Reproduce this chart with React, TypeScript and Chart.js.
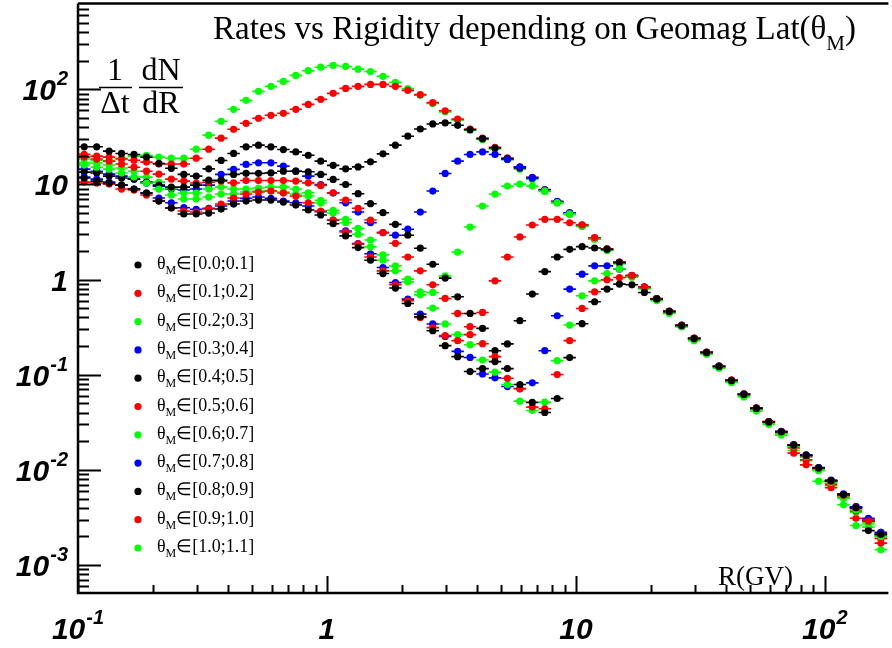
import React, { useEffect, useRef } from "react";
import { Chart, registerables } from "chart.js";

Chart.register(...registerables);

// Bin centres in rigidity (GV)
const rigidity = [
  0.1059, 0.1189, 0.1334, 0.1496, 0.1679, 0.1884, 0.2113, 0.2371, 0.2661, 0.2985,
  0.335, 0.3758, 0.4217, 0.4732, 0.5309, 0.5957, 0.6683, 0.7499, 0.8414, 0.9441,
  1.059, 1.189, 1.334, 1.496, 1.679, 1.884, 2.113, 2.371, 2.661, 2.985,
  3.35, 3.758, 4.217, 4.732, 5.309, 5.957, 6.683, 7.499, 8.414, 9.441,
  10.59, 11.89, 13.34, 14.96, 16.79, 18.84, 21.13, 23.71, 26.61, 29.85,
  33.5, 37.58, 42.17, 47.32, 53.09, 59.57, 66.83, 74.99, 84.14, 94.41,
  105.9, 118.9, 133.4, 149.6, 167.9,
];

const rate00 = [
  11.7, 10.86, 10.35, 9.85, 8.95, 8.13, 6.7, 5.66, 4.9, 4.9,
  5.01, 5.52, 6.23, 6.7, 6.86, 6.86, 6.54, 6.08, 5.39, 4.78,
  3.87, 2.88, 2.17, 1.6, 1.158, 0.815, 0.561, 0.407, 0.29, 0.2023,
  0.155, 0.108, 0.1161, 0.1375, 0.1161, 0.0789, 0.0512, 0.0401, 0.0563, 0.1514,
  0.344, 0.585, 0.795, 0.897, 0.882, 0.733, 0.626, 0.461, 0.329, 0.24,
  0.1712, 0.1222, 0.087, 0.0621, 0.0443, 0.0319, 0.0251, 0.0182, 0.0142, 0.0105,
  0.0077, 0.0055, 0.004, 0.0023, 0.0021,
];
const rate01 = [
  10.6, 10.35, 10.1, 8.95, 8.74, 7.74, 6.7, 5.66, 5.26, 5.13,
  5.52, 6.23, 7.2, 7.93, 8.33, 8.53, 8.13, 7.56, 6.42, 5.26,
  4.23, 3.17, 2.37, 1.73, 1.236, 0.882, 0.599, 0.4, 0.313, 0.2576,
  0.2283, 0.264, 0.212, 0.155, 0.0919, 0.0712, 0.0457, 0.0439, 0.1005, 0.2283,
  0.498, 0.745, 0.995, 1.053, 1.105, 0.834, 0.63, 0.464, 0.331, 0.242,
  0.172, 0.1228, 0.0874, 0.0623, 0.0445, 0.032, 0.0251, 0.0182, 0.0141, 0.0104,
  0.0076, 0.0054, 0.004, 0.0029, 0.0021,
];
const rate02 = [
  16.0, 15.2, 14.5, 13.2, 11.96, 10.35, 8.95, 7.74, 7.03, 7.03,
  7.38, 7.93, 7.93, 8.33, 8.53, 8.53, 8.33, 7.93, 7.56, 6.38,
  5.01, 3.96, 3.0, 2.21, 1.6, 1.236, 0.948, 0.692, 0.502, 0.342,
  0.264, 0.207, 0.143, 0.1065, 0.0789, 0.0528, 0.0421, 0.0515, 0.1409, 0.333,
  0.676, 0.971, 1.158, 1.297, 1.09, 0.82, 0.618, 0.455, 0.325, 0.236,
  0.169, 0.1205, 0.086, 0.0612, 0.0437, 0.0314, 0.0244, 0.0178, 0.0139, 0.0101,
  0.0074, 0.0053, 0.0038, 0.0028, 0.002,
];
const rate03 = [
  11.96, 11.4, 10.6, 9.85, 8.95, 8.13, 7.2, 6.42, 5.7, 5.48,
  5.62, 5.94, 6.7, 7.15, 7.38, 7.15, 6.7, 6.42, 5.94, 5.17,
  4.23, 3.25, 2.39, 1.87, 1.34, 0.931, 0.624, 0.434, 0.342, 0.253,
  0.176, 0.152, 0.102, 0.0928, 0.0752, 0.0716, 0.0822, 0.179, 0.417, 0.795,
  1.142, 1.395, 1.395, 1.288, 1.1, 0.832, 0.628, 0.463, 0.331, 0.2415,
  0.1725, 0.123, 0.0875, 0.0625, 0.0446, 0.0321, 0.0254, 0.0184, 0.0144, 0.0106,
  0.0078, 0.0056, 0.0041, 0.0031, 0.0022,
];
const rate04 = [
  13.5, 13.2, 12.25, 11.7, 11.4, 10.6, 9.85, 9.39, 9.39, 9.85,
  11.1, 11.1, 12.76, 13.1, 13.1, 13.25, 13.8, 13.8, 13.6, 12.76,
  11.3, 10.0, 8.0, 6.28, 5.05, 3.81, 2.93, 2.14, 1.45, 1.037,
  0.66, 0.441, 0.307, 0.179, 0.211, 0.37, 0.705, 1.215, 1.73, 2.08,
  2.22, 2.15, 2.08, 1.51, 1.095, 0.826, 0.623, 0.459, 0.327, 0.239,
  0.1705, 0.1218, 0.0866, 0.0619, 0.0441, 0.0317, 0.025, 0.0182, 0.0143, 0.0105,
  0.0076, 0.0054, 0.0041, 0.0029, 0.0021,
];
const rate05 = [
  19.4, 18.5, 17.6, 16.4, 15.2, 13.8, 12.85, 11.4, 10.86, 10.35,
  10.6, 10.86, 10.4, 11.0, 11.0, 11.0, 11.0, 10.86, 10.4, 9.78,
  8.19, 6.86, 5.62, 4.23, 3.12, 2.41, 1.73, 1.236, 0.882, 0.634,
  0.441, 0.32, 0.452, 0.971, 1.73, 2.81, 3.75, 4.3, 4.3, 3.96,
  3.76, 2.76, 2.11, 1.53, 1.11, 0.838, 0.632, 0.466, 0.333, 0.243,
  0.173, 0.1235, 0.088, 0.0628, 0.0448, 0.0322, 0.0253, 0.017, 0.0128, 0.0105,
  0.007, 0.0055, 0.0037, 0.003, 0.0019,
];
const rate06 = [
  16.8, 16.8, 16.0, 14.9, 13.8, 11.96, 10.6, 9.17, 8.13, 8.13,
  8.95, 9.39, 8.95, 8.95, 9.17, 9.39, 9.39, 8.95, 8.19, 6.81,
  5.35, 4.3, 3.46, 2.61, 1.82, 1.395, 1.012, 0.745, 0.733, 1.096,
  1.95, 3.57, 5.94, 7.93, 9.62, 10.1, 9.62, 8.55, 6.45, 4.92,
  3.66, 2.68, 2.05, 1.48, 1.08, 0.815, 0.615, 0.452, 0.322, 0.234,
  0.168, 0.119, 0.085, 0.0605, 0.0432, 0.0312, 0.024, 0.0175, 0.0136, 0.0098,
  0.0072, 0.005, 0.0036, 0.0027, 0.0019,
];
const rate07 = [
  14.5, 13.8, 12.85, 12.25, 11.4, 10.35, 9.62, 8.95, 8.74, 8.95,
  9.85, 12.76, 14.4, 16.25, 16.9, 16.9, 15.6, 13.8, 12.25, 10.0,
  8.13, 6.42, 5.13, 3.96, 3.12, 2.93, 3.39, 5.13, 8.53, 13.07,
  17.6, 20.7, 22.0, 20.7, 18.3, 15.3, 11.8, 8.8, 6.62, 5.03,
  3.73, 2.74, 2.09, 1.52, 1.1, 0.83, 0.627, 0.462, 0.33, 0.241,
  0.172, 0.1225, 0.0872, 0.0622, 0.0444, 0.032, 0.0252, 0.0183, 0.014, 0.0103,
  0.0077, 0.0054, 0.0039, 0.0029, 0.002,
];
const rate08 = [
  24.9, 24.9, 22.4, 21.2, 20.7, 19.4, 16.65, 14.8, 12.76, 12.25,
  14.6, 17.9, 21.2, 24.9, 25.9, 24.9, 23.3, 22.0, 20.3, 17.6,
  15.9, 14.6, 15.3, 17.3, 21.0, 25.9, 32.2, 38.3, 43.3, 44.4,
  41.9, 37.6, 30.3, 24.2, 18.7, 14.9, 11.7, 8.7, 6.55, 4.98,
  3.7, 2.71, 2.07, 1.5, 1.09, 0.822, 0.62, 0.457, 0.326, 0.238,
  0.17, 0.121, 0.0865, 0.0617, 0.044, 0.0316, 0.0249, 0.018, 0.0141, 0.0104,
  0.0076, 0.0055, 0.004, 0.003, 0.0022,
];
const rate09 = [
  20.8, 19.85, 19.4, 18.5, 18.0, 17.2, 16.4, 16.4, 16.4, 18.9,
  23.5, 30.7, 38.1, 44.0, 49.7, 53.4, 56.0, 61.7, 69.5, 78.5,
  90.8, 102.4, 107.5, 112.8, 112.8, 107.5, 97.6, 88.0, 72.5, 59.5,
  48.6, 38.3, 30.8, 24.6, 19.0, 15.2, 11.9, 8.85, 6.65, 5.05,
  3.75, 2.75, 2.1, 1.53, 1.1, 0.835, 0.63, 0.465, 0.331, 0.242,
  0.172, 0.123, 0.088, 0.0625, 0.0445, 0.0322, 0.0245, 0.015, 0.0113, 0.0101,
  0.0065, 0.0052, 0.0031, 0.0029, 0.0017,
];
const rate10 = [
  18.5, 18.0, 17.6, 18.9, 19.85, 20.3, 19.4, 18.9, 18.9, 23.5,
  33.0, 46.2, 61.7, 76.6, 95.3, 107.5, 121.3, 140.2, 157, 171,
  178.4, 174, 163, 154, 137, 118.4, 101.7, 86.6, 71.0, 58.0,
  47.5, 37.2, 29.8, 23.6, 18.3, 14.5, 11.3, 8.45, 6.4, 4.85,
  3.62, 2.66, 2.02, 1.47, 1.06, 0.8, 0.6, 0.442, 0.318, 0.228,
  0.164, 0.117, 0.083, 0.0585, 0.0415, 0.03, 0.0232, 0.016, 0.0125, 0.0076,
  0.0068, 0.0043, 0.0026, 0.0025, 0.00145,
];

const latBins = [
  "[0.0;0.1]", "[0.1;0.2]", "[0.2;0.3]", "[0.3;0.4]", "[0.4;0.5]", "[0.5;0.6]",
  "[0.6;0.7]", "[0.7;0.8]", "[0.8;0.9]", "[0.9;1.0]", "[1.0;1.1]",
];
const seriesColors = [
  "#000000", "#ff0000", "#00ff00", "#0000ff", "#000000", "#ff0000",
  "#00ff00", "#0000ff", "#000000", "#ff0000", "#00ff00",
];
const allRates = [rate00, rate01, rate02, rate03, rate04, rate05, rate06, rate07, rate08, rate09, rate10];

const xTickValues = [0.1, 1, 10, 100];
const xTickLabels = [["10", "-1"], ["1", ""], ["10", ""], ["10", "2"]];
const yTickValues = [0.001, 0.01, 0.1, 1, 10, 100];
const yTickLabels = [["10", "-3"], ["10", "-2"], ["10", "-1"], ["1", ""], ["10", ""], ["10", "2"]];

const titleText = "Rates vs Rigidity depending on Geomag Lat(θ";
const xTitle = "R(GV)";

const SANS = '"Liberation Sans", Arial, sans-serif';
const SERIF = '"Liberation Serif", "Times New Roman", serif';

function drawPow(ctx: CanvasRenderingContext2D, base: string, exp: string, x: number, y: number, align: string) {
  ctx.font = `italic bold 30px ${SANS}`;
  const wb = ctx.measureText(base).width;
  ctx.font = `italic bold 20px ${SANS}`;
  const we = exp ? ctx.measureText(exp).width + 1 : 0;
  const total = wb + we;
  const x0 = align === "center" ? x - total / 2 : align === "right" ? x - total : x;
  ctx.textAlign = "left";
  ctx.textBaseline = "alphabetic";
  ctx.font = `italic bold 30px ${SANS}`;
  ctx.fillText(base, x0, y);
  if (exp) {
    ctx.font = `italic bold 20px ${SANS}`;
    ctx.fillText(exp, x0 + wb + 1, y - 15);
  }
}

function binEdges(j: number): [number, number] {
  const r = rigidity;
  const lo = j > 0 ? Math.sqrt(r[j - 1] * r[j]) : (r[0] * r[0]) / Math.sqrt(r[0] * r[1]);
  const hi = j < r.length - 1 ? Math.sqrt(r[j] * r[j + 1]) : (r[j] * r[j]) / Math.sqrt(r[j - 1] * r[j]);
  return [lo, hi];
}

const decorPlugin = {
  id: "decor",
  beforeDatasetsDraw(chart: any) {
    const ctx: CanvasRenderingContext2D = chart.ctx;
    const xs = chart.scales.x;
    const ys = chart.scales.y;
    const { left, right, top, bottom } = chart.chartArea;
    ctx.save();
    ctx.beginPath();
    ctx.rect(left, top, right - left, bottom - top);
    ctx.clip();
    ctx.lineWidth = 1.6;
    for (let i = chart.data.datasets.length - 1; i >= 0; i--) {
      const ds = chart.data.datasets[i];
      ctx.strokeStyle = ds.backgroundColor;
      ctx.beginPath();
      ds.data.forEach((p: any, j: number) => {
        const [lo, hi] = binEdges(j);
        const py = ys.getPixelForValue(p.y);
        ctx.moveTo(xs.getPixelForValue(lo), py);
        ctx.lineTo(xs.getPixelForValue(hi), py);
      });
      ctx.stroke();
    }
    ctx.restore();
  },
  afterDraw(chart: any) {
    const ctx: CanvasRenderingContext2D = chart.ctx;
    const xs = chart.scales.x;
    const ys = chart.scales.y;
    const { left, right, top, bottom } = chart.chartArea;
    ctx.save();
    ctx.fillStyle = "#000";
    ctx.strokeStyle = "#000";
    // frame
    ctx.lineWidth = 2.5;
    ctx.beginPath();
    ctx.moveTo(left, top);
    ctx.lineTo(right, top);
    ctx.moveTo(left, top);
    ctx.lineTo(left, bottom);
    ctx.lineTo(right, bottom);
    ctx.stroke();
    // ticks
    ctx.lineWidth = 2;
    ctx.beginPath();
    for (let e = -1; e <= 2; e++) {
      for (let m = 1; m <= 9; m++) {
        const v = m * Math.pow(10, e);
        if (v < xs.min || v > xs.max) continue;
        const px = Math.round(xs.getPixelForValue(v)) + 0.5;
        const len = m === 1 ? 17 : 8;
        ctx.moveTo(px, bottom);
        ctx.lineTo(px, bottom - len);
      }
    }
    for (let e = -4; e <= 2; e++) {
      for (let m = 1; m <= 9; m++) {
        const v = m * Math.pow(10, e);
        if (v < ys.min || v > ys.max) continue;
        const py = Math.round(ys.getPixelForValue(v)) + 0.5;
        const len = m === 1 ? 23 : 11;
        ctx.moveTo(left, py);
        ctx.lineTo(left + len, py);
      }
    }
    ctx.stroke();
    // tick labels
    xTickValues.forEach((v, i) => {
      drawPow(ctx, xTickLabels[i][0], xTickLabels[i][1], xs.getPixelForValue(v), 639, "center");
    });
    yTickValues.forEach((v, i) => {
      drawPow(ctx, yTickLabels[i][0], yTickLabels[i][1], 68, ys.getPixelForValue(v) + 11, "right");
    });
    // title
    ctx.textAlign = "left";
    ctx.textBaseline = "alphabetic";
    ctx.font = `33px ${SERIF}`;
    ctx.fillText(titleText, 213, 39);
    const w1 = ctx.measureText(titleText).width;
    ctx.font = `21px ${SERIF}`;
    ctx.fillText("M", 213 + w1, 50);
    const w2 = ctx.measureText("M").width;
    ctx.font = `33px ${SERIF}`;
    ctx.fillText(")", 213 + w1 + w2, 39);
    // y-axis title: (1/Δt)(dN/dR)
    ctx.font = `32px ${SERIF}`;
    ctx.textAlign = "center";
    ctx.fillText("1", 115, 80);
    ctx.fillText("Δt", 115, 113);
    ctx.fillText("dN", 161, 80);
    ctx.fillText("dR", 161, 113);
    ctx.lineWidth = 1.5;
    ctx.beginPath();
    ctx.moveTo(99, 87.5);
    ctx.lineTo(132, 87.5);
    ctx.moveTo(139, 87.5);
    ctx.lineTo(183, 87.5);
    ctx.stroke();
    // x-axis title
    ctx.textAlign = "left";
    ctx.font = `27px ${SERIF}`;
    ctx.fillText(xTitle, 718, 585);
    // legend
    latBins.forEach((lab, i) => {
      const cy = 265 + i * 28.3;
      ctx.fillStyle = seriesColors[i];
      ctx.beginPath();
      ctx.arc(138, cy, 3.6, 0, Math.PI * 2);
      ctx.fill();
      ctx.fillStyle = "#000";
      ctx.textAlign = "left";
      ctx.font = `18px ${SERIF}`;
      let x = 157;
      ctx.fillText("θ", x, cy + 4);
      x += ctx.measureText("θ").width;
      ctx.font = `12px ${SERIF}`;
      ctx.fillText("M", x, cy + 9);
      x += ctx.measureText("M").width;
      ctx.font = `18px ${SERIF}`;
      ctx.fillText("∈" + lab, x, cy + 4);
    });
    ctx.restore();
  },
};

export default function App() {
  const canvasRef = useRef<HTMLCanvasElement | null>(null);

  useEffect(() => {
    const canvas = canvasRef.current;
    if (!canvas) return;
    const datasets = allRates.map((rates, i) => ({
      label: "θM∈" + latBins[i],
      data: rigidity.map((r, j) => ({ x: r, y: rates[j] })),
      backgroundColor: seriesColors[i],
      borderColor: seriesColors[i],
      pointRadius: 3.6,
      pointBorderWidth: 0,
      pointHoverRadius: 3.6,
      showLine: false,
    }));
    const chart = new Chart(canvas, {
      type: "scatter",
      data: { datasets },
      options: {
        animation: false,
        responsive: false,
        events: [],
        layout: { padding: { left: 78, top: 2, right: 0, bottom: 55 } },
        plugins: {
          legend: { display: false },
          tooltip: { enabled: false },
          title: { display: false },
        },
        scales: {
          x: { type: "logarithmic", min: 0.1, max: 180, display: false, bounds: "data" },
          y: { type: "logarithmic", min: 5.08e-4, max: 797, display: false, bounds: "data" },
        },
      },
      plugins: [decorPlugin],
    } as any);
    return () => chart.destroy();
  }, []);

  return (
    <div style={{ position: "absolute", left: 0, top: 0, width: 892, height: 648, background: "#fff" }}>
      <canvas ref={canvasRef} width={892} height={648} style={{ width: 892, height: 648, display: "block" }} />
    </div>
  );
}
